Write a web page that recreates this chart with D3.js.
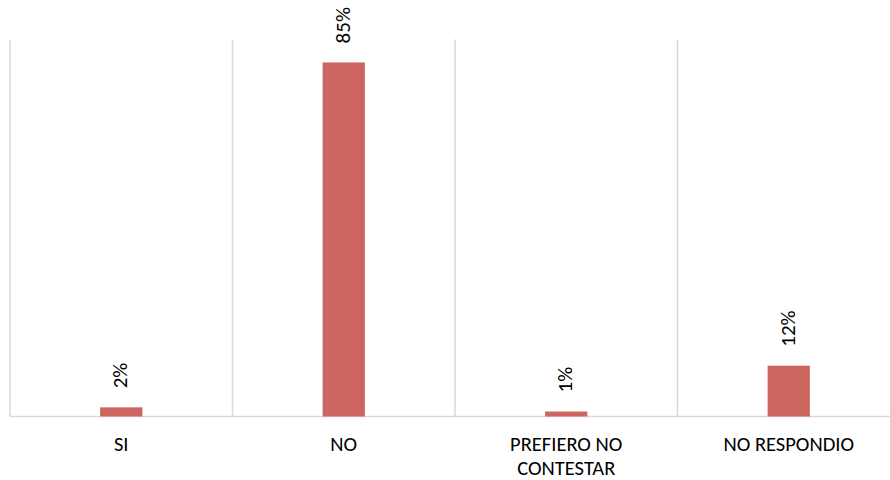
<!DOCTYPE html>
<html><head><meta charset="utf-8">
<script src="https://cdn.jsdelivr.net/npm/d3@7"></script>
<style>
html,body{margin:0;padding:0;background:#fff;}
svg{display:block;}
text{font-family:Carlito,Lato,"Open Sans",sans-serif;fill:#000;}
</style></head><body>
<svg id="chart" width="890" height="480"></svg>
<script>
const categories = ["SI", "NO", "PREFIERO NO CONTESTAR", "NO RESPONDIO"];
const tickLabels = [["SI"], ["NO"], ["PREFIERO NO", "CONTESTAR"], ["NO RESPONDIO"]];
const values = [2.2, 85, 1.2, 12.2];
const valueLabels = ["2%", "85%", "1%", "12%"];

const svg = d3.select("#chart");
const plotLeft = 10, plotRight = 900, plotTop = 39.5, plotBase = 416.5;

const x = d3.scaleBand().domain(categories).range([plotLeft, plotRight]).paddingInner(0).paddingOuter(0);
const y = d3.scaleLinear().domain([0, 90.5]).range([plotBase, plotTop]);
const barW = x.bandwidth() * 0.19;

// vertical gridlines at category boundaries
const bounds = categories.map(c => x(c)).concat([plotRight]);
svg.append("g").selectAll("line").data(bounds).join("line")
  .attr("x1", d => d).attr("x2", d => d)
  .attr("y1", plotTop).attr("y2", plotBase)
  .attr("stroke", "#d9d9d9").attr("stroke-width", 1.5);

// baseline
svg.append("line").attr("x1", plotLeft).attr("x2", plotRight)
  .attr("y1", plotBase).attr("y2", plotBase)
  .attr("stroke", "#d9d9d9").attr("stroke-width", 1.5);

// bars
svg.append("g").selectAll("rect").data(values).join("rect")
  .attr("x", (d, i) => x(categories[i]) + x.bandwidth() / 2 - barW / 2)
  .attr("y", d => y(d))
  .attr("width", barW)
  .attr("height", d => plotBase - y(d))
  .attr("fill", "#cd6660");

// value labels (rotated)
svg.append("g").selectAll("text").data(values).join("text")
  .attr("transform", (d, i) => `translate(${x(categories[i]) + x.bandwidth() / 2 - 1},${y(d) - 19}) rotate(-90)`)
  .attr("text-anchor", "start")
  .attr("dominant-baseline", "central")
  .style("font-size", "21px")
  .text((d, i) => valueLabels[i]);

// category axis
const axis = svg.append("g").attr("transform", `translate(0,${plotBase})`)
  .call(d3.axisBottom(x).tickSize(0).tickPadding(0));
axis.select(".domain").remove();
axis.selectAll(".tick text").each(function(d, i) {
  const t = d3.select(this);
  t.text(null).attr("y", 0).attr("dy", null)
    .style("font-size", "20.5px").style("font-family", "Carlito,Lato,'Open Sans',sans-serif").attr("fill", "#000");
  tickLabels[i].forEach((line, j) => {
    t.append("tspan").attr("x", 0).attr("y", 34.5 + j * 24).text(line);
  });
});
</script>
</body></html>
